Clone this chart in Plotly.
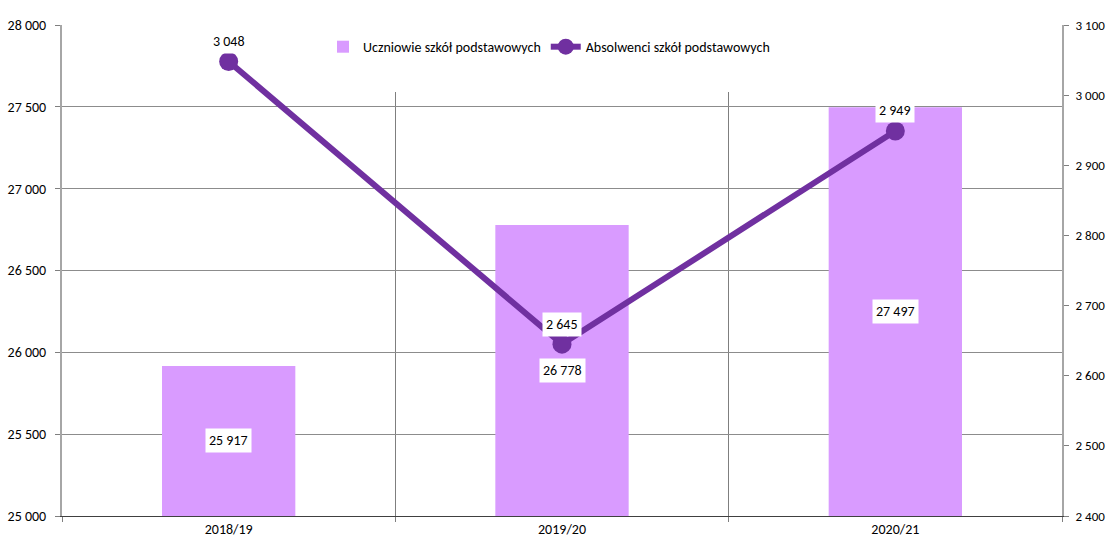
import plotly.graph_objects as go

categories = ["2018/19", "2019/20", "2020/21"]
students = [25917, 26778, 27497]
graduates = [3048, 2645, 2949]
bar_name = "Uczniowie szkół podstawowych"
line_name = "Absolwenci szkół podstawowych"

BAR_COLOR = "#D99BFF"
LINE_COLOR = "#7030A0"
FONT = "Carlito, Lato, 'Liberation Sans', sans-serif"
Y_MIN, Y_MAX = 25000, 28000
Y2_MIN, Y2_MAX = 2400, 3100


def fmt(v):
    return f"{v:,}".replace(",", " ")


fig = go.Figure()
fig.add_trace(go.Bar(
    x=categories, y=students, name=bar_name, marker_color=BAR_COLOR,
    marker_line_width=0, width=0.4,
))
fig.add_trace(go.Scatter(
    x=categories, y=graduates, name=line_name, yaxis="y2", mode="lines+markers",
    line=dict(color=LINE_COLOR, width=6), marker=dict(color=LINE_COLOR, size=19),
))

annotations = []
for c, v in zip(categories, students):
    annotations.append(dict(
        x=c, y=(Y_MIN + v) / 2, xref="x", yref="y", text=fmt(v), showarrow=False,
        bgcolor="white", borderpad=3, font=dict(family=FONT, size=14, color="black"),
    ))
for c, v in zip(categories, graduates):
    annotations.append(dict(
        x=c, y=v, xref="x", yref="y2", text=fmt(v), showarrow=False, yshift=20,
        bgcolor="white", borderpad=3, font=dict(family=FONT, size=14, color="black"),
    ))

fig.update_layout(
    width=1107, height=539,
    margin=dict(l=62, r=45, t=25, b=23),
    paper_bgcolor="white", plot_bgcolor="white",
    separators=", ",
    font=dict(family=FONT, size=14, color="black"),
    bargap=0.6,
    showlegend=True,
    legend=dict(
        orientation="h", x=0.487, xanchor="center", y=0.955, yanchor="middle",
        bgcolor="white", font=dict(family=FONT, size=14, color="black"),
        itemwidth=30, traceorder="normal",
    ),
    xaxis=dict(
        type="category", tickson="boundaries", showgrid=True, gridcolor="#7F7F7F",
        gridwidth=1, ticks="outside", ticklen=5, tickcolor="#7F7F7F",
        showline=True, linecolor="#404040", linewidth=1, automargin=False,
        tickfont=dict(family=FONT, size=14, color="black"),
    ),
    yaxis=dict(
        range=[Y_MIN, Y_MAX], dtick=500, tickformat=",d", showgrid=True,
        gridcolor="#8C8C8C", gridwidth=1, zeroline=False, showline=True,
        linecolor="#A6A6A6", linewidth=2, ticks="outside", ticklen=5,
        tickcolor="#7F7F7F", automargin=False, ticklabelstandoff=6,
        tickfont=dict(family=FONT, size=14, color="black"),
    ),
    yaxis2=dict(
        range=[Y2_MIN, Y2_MAX], dtick=100, tickformat=",d", overlaying="y",
        side="right", showgrid=False, zeroline=False, showline=True,
        linecolor="#A6A6A6", linewidth=2, ticks="outside", ticklen=5,
        tickcolor="#7F7F7F", automargin=False, ticklabelstandoff=4,
        tickfont=dict(family=FONT, size=13, color="black"),
    ),
    annotations=annotations,
    shapes=[dict(
        type="rect", xref="paper", yref="paper", x0=0.243, x1=0.738, y0=0.8635,
        y1=1.01, fillcolor="white", line_width=0, layer="above",
    )],
)

fig.write_html(
    "out.html",
    config={"displayModeBar": False},
    post_script="document.body.style.margin='0px';document.body.style.overflow='hidden';",
)
